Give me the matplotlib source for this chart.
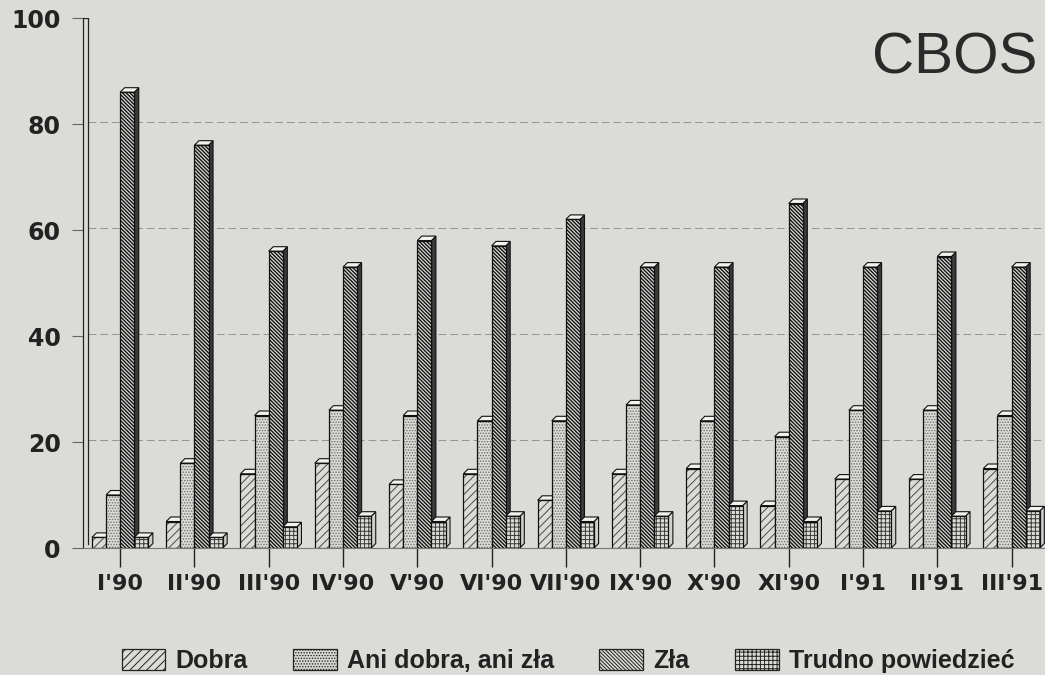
import matplotlib
matplotlib.use('Agg')
import matplotlib.pyplot as plt
from matplotlib.patches import Polygon, Patch

# ---- data ----
categories = ["I'90", "II'90", "III'90", "IV'90", "V'90", "VI'90", "VII'90",
              "IX'90", "X'90", "XI'90", "I'91", "II'91", "III'91"]
dobra = [2, 5, 14, 16, 12, 14, 9, 14, 15, 8, 13, 13, 15]
ani = [10, 16, 25, 26, 25, 24, 24, 27, 24, 21, 26, 26, 25]
zla = [86, 76, 56, 53, 58, 57, 62, 53, 53, 65, 53, 55, 53]
trudno = [2, 2, 4, 6, 5, 6, 5, 6, 8, 5, 7, 6, 7]
series_names = ["Dobra", "Ani dobra, ani zła", "Zła", "Trudno powiedzieć"]
y_ticks = [0, 20, 40, 60, 80, 100]

series = [dobra, ani, zla, trudno]

BG = '#dbdbd7'
TXT = '#222222'
plt.rcParams['hatch.linewidth'] = 0.7

W, H = 1045, 675
fig = plt.figure(figsize=(W / 100, H / 100), dpi=100, facecolor=BG)
ax_l, ax_b, ax_r, ax_t = 83, 548, 1045, 18
ax = fig.add_axes([ax_l / W, 1 - ax_b / H, (ax_r - ax_l) / W, (ax_b - ax_t) / H])
ax.set_facecolor(BG)
xmin, xmax = -0.5, 12.45
ax.set_xlim(xmin, xmax)
ax.set_ylim(0, 100)

px_x = (ax_r - ax_l) / (xmax - xmin)
px_y = (ax_b - ax_t) / 100.0
depth = 4.5
dx = depth / px_x
dy = depth / px_y

styles = [
    dict(hatch='////', hcol='#4a4a4a', side='#b8b8b4', hlw=0.7),
    dict(hatch='......', hcol='#6e6e6e', side='#cacac6', hlw=0.7),
    dict(hatch='\\' * 9, hcol='#151515', side='#3a3a3a', hlw=1.0),
    dict(hatch='++++', hcol='#3a3a3a', side='#cfcfcb', hlw=0.7),
]

bw = 0.19
offsets = [-1.5 * bw, -0.5 * bw, 0.5 * bw, 1.5 * bw]
xs = list(range(len(categories)))

for i, (vals, st) in enumerate(zip(series, styles)):
    z = 3 + i
    pos = [x + offsets[i] for x in xs]
    with plt.rc_context({'hatch.linewidth': st['hlw']}):
        hb = ax.bar(pos, vals, width=bw, color=BG, edgecolor=st['hcol'], linewidth=0,
                    hatch=st['hatch'], zorder=z)
    for p in hb:
        if hasattr(p, 'set_hatch_linewidth'):
            p.set_hatch_linewidth(st['hlw'])
    bars = ax.bar(pos, vals, width=bw, facecolor='none', edgecolor='#111111',
                  linewidth=0.9, zorder=z + 0.01)
    for rect in bars:
        x0 = rect.get_x()
        w = rect.get_width()
        h = rect.get_height()
        side = Polygon([(x0 + w, 0), (x0 + w + dx, dy), (x0 + w + dx, h + dy), (x0 + w, h)],
                       closed=True, facecolor=st['side'], edgecolor='#111111',
                       linewidth=0.8, zorder=z - 0.5)
        top = Polygon([(x0, h), (x0 + dx, h + dy), (x0 + w + dx, h + dy), (x0 + w, h)],
                      closed=True, facecolor='#f2f2ef', edgecolor='#111111',
                      linewidth=0.8, zorder=z - 0.5)
        ax.add_patch(side)
        ax.add_patch(top)

# grid lines (back wall)
for yv in y_ticks[1:]:
    ax.plot([xmin + dx, xmax], [yv + dy * 0.5, yv + dy * 0.5], color='#939391',
            lw=0.7, ls=(0, (8, 4)), zorder=1)

# wall inner line
ax.plot([xmin + dx, xmin + dx], [dy, 100], color='#222222', lw=0.9, zorder=2)
ax.plot([xmin, xmin + dx], [100, 100], color='#222222', lw=0.9, zorder=2)

for s in ['top', 'right']:
    ax.spines[s].set_visible(False)
ax.spines['left'].set_color('#222222')
ax.spines['left'].set_linewidth(0.9)
ax.spines['bottom'].set_color('#777777')
ax.spines['bottom'].set_linewidth(0.8)

ax.set_xticks(xs)
ax.set_xticklabels(categories, fontsize=16, fontweight='bold', color=TXT,
                   family='DejaVu Sans')
ax.tick_params(axis='x', length=14, width=1.0, color='#222222', pad=5, direction='out')
ax.set_yticks(y_ticks)
ax.set_yticklabels([str(v) for v in y_ticks], fontsize=17, fontweight='bold',
                   color=TXT, family='DejaVu Sans')
ax.tick_params(axis='y', length=8, width=0.8, color='#666666', pad=8, direction='out')

fig.text(1037 / W, 1 - 58 / H, 'CBOS', ha='right', va='center', fontsize=42,
         family=['Liberation Sans', 'DejaVu Sans'], color='#2a2a2a')

handles = [Patch(facecolor=BG, edgecolor='#222222', hatch=st['hatch'], linewidth=0.9)
           for st in styles]
fig.legend(handles, series_names, loc='center', bbox_to_anchor=(568 / W, 1 - 661 / H),
           ncol=4, frameon=False, handlelength=1.75, handleheight=0.9,
           handletextpad=0.42, columnspacing=1.8, borderpad=0.1,
           prop=dict(family=['Liberation Sans', 'DejaVu Sans'],
                     weight='bold', size=18), labelcolor=TXT)

fig.savefig('out.png', dpi=100, facecolor=BG)
